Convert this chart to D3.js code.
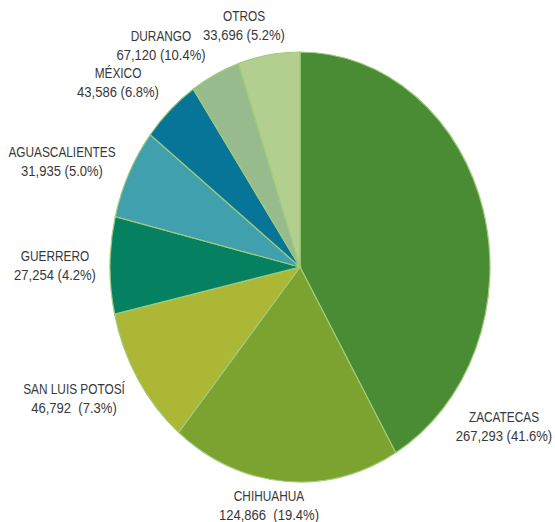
<!DOCTYPE html>
<html>
<head>
<meta charset="utf-8">
<script src="https://cdn.jsdelivr.net/npm/d3@7"></script>
<style>
  body { margin: 0; background: #fff; }
  text { font-family: "Liberation Sans", Arial, sans-serif; fill: #383838; }
</style>
</head>
<body>
<div id="container"></div>
<script>
let w = 555;
let h = 522;

// data, in the order the labels sit around the pie (clockwise from 12 o'clock)
let estados = ["ZACATECAS", "CHIHUAHUA", "SAN LUIS POTOSÍ", "GUERRERO",
               "AGUASCALIENTES", "MÉXICO", "DURANGO", "OTROS"];
let valores = [267293, 124866, 46792, 27254, 31935, 43586, 67120, 33696];
let porcentajes = ["41.6%", "19.4%", "7.3%", "4.2%", "5.0%", "6.8%", "10.4%", "5.2%"];
let espacio = [" ", "  ", "  ", " ", " ", " ", " ", " "];  // spacing as printed

// slices are drawn largest first with OTROS kept last
let orden = d3.range(estados.length - 1)
  .sort((a, b) => valores[b] - valores[a])
  .concat([estados.length - 1]);

let colores = ["#4a8c34", "#7ca22f", "#abb735", "#058060",
               "#40a0ad", "#077597", "#98bb8d", "#b2cf8f"];

// label centres (layout only)
let posEtiquetas = [[504, 426], [269, 505], [74, 398], [55, 265],
                    [62, 161], [118, 82], [161, 45], [244, 25]];

let cx = 300, cy = 267, rx = 190, ry = 215;

let viz = d3.select("#container").append("svg")
    .attr("width", w)
    .attr("height", h);

let pie = d3.pie().sort(null).value(d => d);
let arcs = pie(orden.map(i => valores[i]));
let arc = d3.arc().innerRadius(0).outerRadius(rx);

let pieGroup = viz.append("g")
  .attr("transform", "translate(" + cx + "," + cy + ") scale(1," + (ry / rx) + ")");

pieGroup.selectAll("path").data(arcs).enter()
  .append("path")
  .attr("d", arc)
  .attr("fill", (d, i) => colores[i])
  .attr("stroke", "#9fcb7c")
  .attr("stroke-width", 1.2)
  .attr("vector-effect", "non-scaling-stroke");

let fmt = d3.format(",");

let labels = viz.selectAll(".label").data(estados).enter()
  .append("g")
  .attr("class", "label")
  .attr("transform", (d, i) => "translate(" + posEtiquetas[i][0] + "," + posEtiquetas[i][1] + ")");

// narrow the glyphs a bit, the original uses a condensed face
labels.append("text")
  .attr("text-anchor", "middle")
  .attr("font-size", 15)
  .attr("transform", "translate(0,-4) scale(0.79,1)")
  .text(d => d);
labels.append("text")
  .attr("text-anchor", "middle")
  .attr("font-size", 15)
  .attr("transform", "translate(0,15) scale(0.87,1)")
  .style("white-space", "pre")
  .text((d, i) => fmt(valores[i]) + espacio[i] + "(" + porcentajes[i] + ")");
</script>
</body>
</html>
